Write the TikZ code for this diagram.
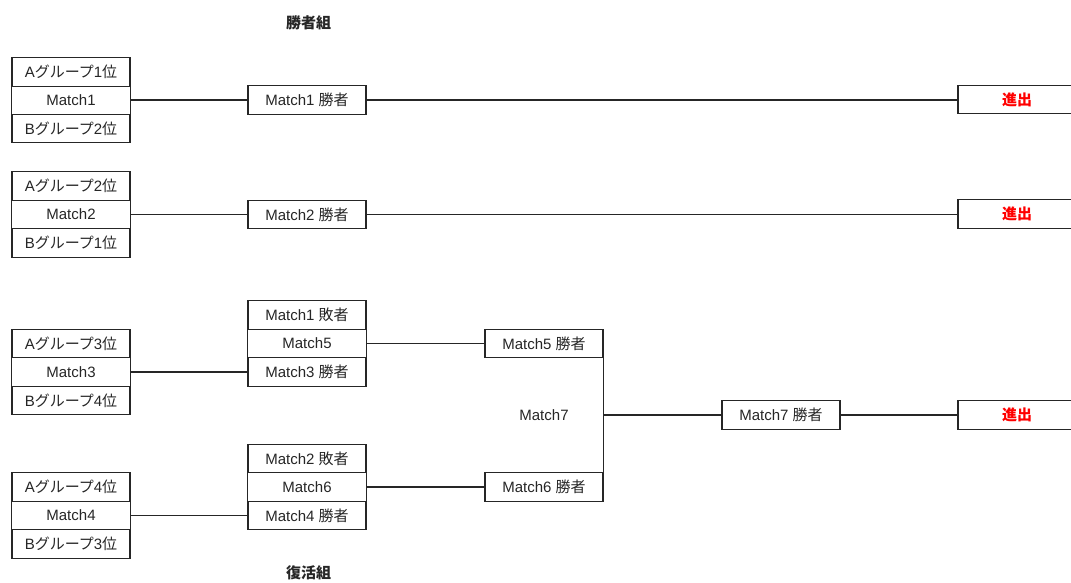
\documentclass[tikz,border=0pt]{standalone}
\usepackage{fontspec}
\setmainfont{Liberation Sans}
\newfontfamily\jp{Noto Sans CJK JP}
\newcommand\J[1]{{\jp #1}}
\begin{document}
\begin{tikzpicture}[x=1pt,y=-1pt,
  every node/.style={font=\fontsize{15}{17}\selectfont, text=black!85, inner sep=0pt},
  team/.style={draw=black!85, line width=1.1pt, minimum width=118pt, minimum height=28.5pt, fill=white},
  lbl/.style={},
  red/.style={text=red, font=\fontsize{15}{17}\selectfont\bfseries},
  title/.style={font=\fontsize{15}{17}\selectfont\bfseries},
  conn/.style={draw=black!85, line width=1.1pt}]
\useasboundingbox (0,0) rectangle (1071,583);
% titles
\node[title] (t1) at (308.5,23) {\J{\bfseries 勝者組}};
\node[title] (t2) at (308.5,573) {\J{\bfseries 復活組}};
% left column
\node[team] (a1) at (71,72) {A\J{グループ}1\J{位}};
\node[lbl]  (m1) at (71,100) {Match1};
\node[team] (b2) at (71,128.5) {B\J{グループ}2\J{位}};
\node[team] (a2) at (71,186) {A\J{グループ}2\J{位}};
\node[lbl]  (m2) at (71,214.5) {Match2};
\node[team] (b1) at (71,243) {B\J{グループ}1\J{位}};
\node[team] (a3) at (71,343.5) {A\J{グループ}3\J{位}};
\node[lbl]  (m3) at (71,372) {Match3};
\node[team] (b4) at (71,400.5) {B\J{グループ}4\J{位}};
\node[team] (a4) at (71,487) {A\J{グループ}4\J{位}};
\node[lbl]  (m4) at (71,515.5) {Match4};
\node[team] (b3) at (71,544) {B\J{グループ}3\J{位}};
% middle column
\node[team] (w1) at (307,100) {Match1 \J{勝者}};
\node[team] (w2) at (307,214.5) {Match2 \J{勝者}};
\node[team] (l1) at (307,315) {Match1 \J{敗者}};
\node[lbl]  (m5) at (307,343.5) {Match5};
\node[team] (w3) at (307,372) {Match3 \J{勝者}};
\node[team] (l2) at (307,458.5) {Match2 \J{敗者}};
\node[lbl]  (m6) at (307,487) {Match6};
\node[team] (w4) at (307,515.5) {Match4 \J{勝者}};
% third column
\node[team] (w5) at (544,343.5) {Match5 \J{勝者}};
\node[lbl]  (m7) at (544,415.5) {Match7};
\node[team] (w6) at (544,487) {Match6 \J{勝者}};
% fourth
\node[team] (w7) at (781,415) {Match7 \J{勝者}};
% advance
\node[team] (q1) at (1017,99.5) {\J{\color{red}\bfseries 進出}};
\node[team] (q2) at (1017,214) {\J{\color{red}\bfseries 進出}};
\node[team] (q3) at (1017,415) {\J{\color{red}\bfseries 進出}};
% connectors
\draw[conn] (a1.south east |- m1) -- (w1.west);
\draw[conn] (w1.east) -- (q1.west |- w1);
\draw[conn] (a2.south east |- m2) -- (w2.west);
\draw[conn] (w2.east) -- (q2.west |- w2);
\draw[conn] (a3.south east |- m3) -- (w3.west);
\draw[conn] (a4.south east |- m4) -- (w4.west);
\draw[conn] (l1.south east |- m5) -- (w5.west);
\draw[conn] (l2.south east |- m6) -- (w6.west);
\draw[conn] (w5.south east) |- (w7.west);
\draw[conn] (w6.north east) |- (w7.west);
\draw[conn] (w7.east) -- (q3.west);
% side borders between stacked boxes
\draw[conn] (a1.south west) -- (b2.north west) (a1.south east) -- (b2.north east);
\draw[conn] (a2.south west) -- (b1.north west) (a2.south east) -- (b1.north east);
\draw[conn] (a3.south west) -- (b4.north west) (a3.south east) -- (b4.north east);
\draw[conn] (a4.south west) -- (b3.north west) (a4.south east) -- (b3.north east);
\draw[conn] (l1.south west) -- (w3.north west) (l1.south east) -- (w3.north east);
\draw[conn] (l2.south west) -- (w4.north west) (l2.south east) -- (w4.north east);
\end{tikzpicture}
\end{document}
